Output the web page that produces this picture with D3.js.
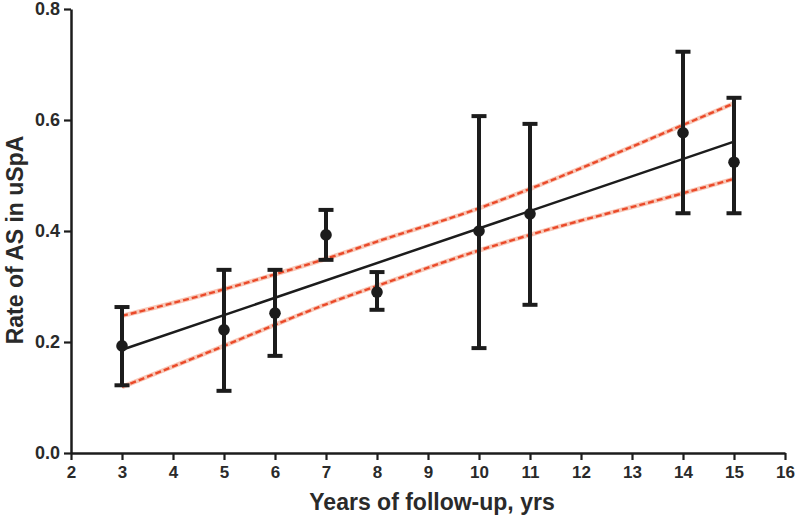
<!DOCTYPE html>
<html><head><meta charset="utf-8">
<script src="https://cdn.jsdelivr.net/npm/d3@7"></script>
<style>body{margin:0;background:#fff}svg{display:block}</style>
</head><body><svg id="c" width="800" height="520"></svg>
<script>
const years = [3, 5, 6, 7, 8, 10, 11, 14, 15];
const rate  = [0.193, 0.222, 0.252, 0.393, 0.290, 0.400, 0.431, 0.577, 0.524];
const upperErr = [0.263, 0.330, 0.330, 0.438, 0.326, 0.607, 0.593, 0.723, 0.640];
const lowerErr = [0.122, 0.112, 0.175, 0.348, 0.258, 0.189, 0.267, 0.432, 0.432];
const fitX = [3, 15];
const fitY = [0.186, 0.561];
const bandX = [3, 5, 6, 7, 8, 10, 11, 14, 15];
const ciUpper = [0.247, 0.295, 0.322, 0.350, 0.381, 0.441, 0.476, 0.591, 0.630];
const ciLower = [0.119, 0.193, 0.231, 0.268, 0.301, 0.365, 0.393, 0.468, 0.494];
const xTicks = d3.range(2, 17, 1);
const yTicks = [0.0, 0.2, 0.4, 0.6, 0.8];

const svg = d3.select("#c");
const x = d3.scaleLinear().domain([2, 16]).range([71, 785]);
const y = d3.scaleLinear().domain([0, 0.8]).range([453, 9]);
const ink = "#1c1c1c";
const font = "'Liberation Sans', Arial, sans-serif";

// axes
const xa = svg.append("g").attr("transform", `translate(0,${y(0)})`)
  .call(d3.axisBottom(x).tickValues(xTicks).tickSize(7).tickSizeOuter(0).tickPadding(6).tickFormat(d3.format("d")));
const ya = svg.append("g").attr("transform", `translate(${x(2)},0)`)
  .call(d3.axisLeft(y).tickValues(yTicks).tickSize(7).tickSizeOuter(0).tickPadding(4).tickFormat(d3.format(".1f")));
[xa, ya].forEach((a, k) => {
  a.select(".domain").attr("stroke", ink).attr("stroke-width", 2.5);
  a.selectAll(".tick line").attr("stroke", ink).attr("stroke-width", 2.2);
  a.selectAll(".tick text").attr("fill", "#2a2a2a").style("font-family", font)
    .style("font-size", k === 0 ? "17px" : "18px").style("font-weight", "bold");
});

// confidence band curves
const curve = d3.line().x(d => x(d[0])).y(d => y(d[1])).curve(d3.curveMonotoneX);
[ciUpper, ciLower].forEach(arr => {
  const pts = bandX.map((v, i) => [v, arr[i]]);
  svg.append("path").attr("d", curve(pts)).attr("fill", "none")
    .attr("stroke", "#f8c8b8").attr("stroke-width", 4.5);
  svg.append("path").attr("d", curve(pts)).attr("fill", "none")
    .attr("stroke", "#ea4a2a").attr("stroke-width", 2.4).attr("stroke-dasharray", "6,3");
});

// regression line
const line = d3.line().x(d => x(d[0])).y(d => y(d[1]));
svg.append("path").attr("d", line(fitX.map((v, i) => [v, fitY[i]])))
  .attr("fill", "none").attr("stroke", ink).attr("stroke-width", 2.5);

// error bars
const g = svg.append("g");
years.forEach((yr, i) => {
  const cx = x(yr);
  g.append("line").attr("x1", cx).attr("x2", cx).attr("y1", y(upperErr[i])).attr("y2", y(lowerErr[i]))
    .attr("stroke", ink).attr("stroke-width", 4);
  [upperErr[i], lowerErr[i]].forEach(v => {
    g.append("line").attr("x1", cx - 7.5).attr("x2", cx + 7.5).attr("y1", y(v)).attr("y2", y(v))
      .attr("stroke", ink).attr("stroke-width", 4);
  });
  g.append("circle").attr("cx", cx).attr("cy", y(rate[i])).attr("r", 5.8).attr("fill", ink);
});

// titles
svg.append("text").attr("x", 432).attr("y", 510).attr("text-anchor", "middle")
  .style("font-family", font).style("font-size", "23px").style("font-weight", "bold").attr("fill", "#2a2a2a")
  .text("Years of follow-up, yrs");
svg.append("text").attr("transform", `translate(23,240) rotate(-90)`).attr("text-anchor", "middle")
  .style("font-family", font).style("font-size", "23px").style("font-weight", "bold").attr("fill", "#2a2a2a")
  .text("Rate of AS in uSpA");
</script></body></html>
